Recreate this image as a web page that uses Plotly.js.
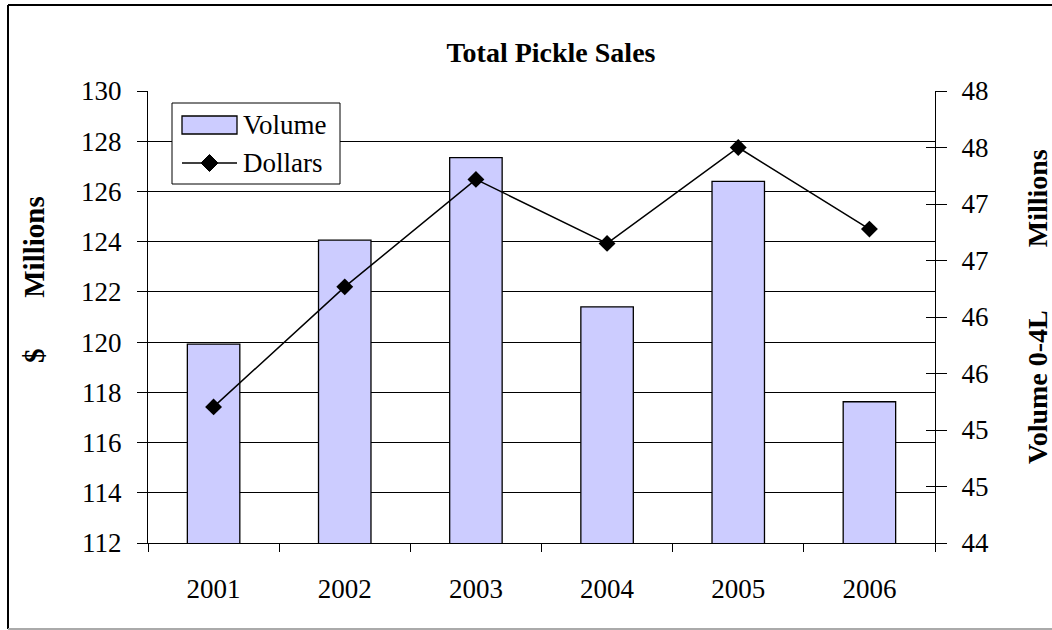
<!DOCTYPE html>
<html>
<head>
<meta charset="utf-8">
<script src="https://cdn.plot.ly/plotly-3.0.1.min.js"></script>
<style>html,body{margin:0;padding:0;background:#fff;}#chart{width:1052px;height:630px;}</style>
</head>
<body>
<div id="chart"></div>
<script>
// ---- data ----
const years = ['2001', '2002', '2003', '2004', '2005', '2006'];
const volume = [45.76, 46.68, 47.41, 46.09, 47.20, 45.25];      // right axis, Volume 0-4L Millions
const dollars = [117.42, 122.2, 126.48, 123.93, 127.75, 124.5]; // left axis, $ Millions
const rightTickVals = [44, 44.5, 45, 45.5, 46, 46.5, 47, 47.5, 48];
const rightTickText = ['44', '45', '45', '46', '46', '47', '47', '48', '48'];
const seriesNames = ['Volume', 'Dollars'];
const titleText = 'Total Pickle Sales';
const leftTitle = '$\u00a0\u00a0\u00a0\u00a0\u00a0\u00a0\u00a0Millions';
const rightTitle = 'Volume 0-4L\u00a0\u00a0\u00a0\u00a0\u00a0\u00a0\u00a0\u00a0\u00a0Millions';

// ---- layout geometry (pixels) ----
const W = 1052, H = 630;
const L = 148, R = 935, T = 91, B = 543;
const px = x => (x - L) / (R - L);
const py = y => (B - y) / (B - T);

const FONT = 'Liberation Serif';
const BAR_FILL = '#CCCCFF';

const traces = [
  {
    type: 'bar', name: seriesNames[0], x: years, y: volume, yaxis: 'y',
    marker: {color: BAR_FILL, line: {color: '#000', width: 1.3}},
    hoverinfo: 'skip', showlegend: false
  },
  {
    type: 'scatter', mode: 'lines+markers', name: seriesNames[1], x: years, y: dollars, yaxis: 'y2',
    line: {color: '#000', width: 1.5},
    marker: {symbol: 'diamond', size: 13, color: '#000'},
    hoverinfo: 'skip', showlegend: false
  },
  // invisible trace carrying the inside half of the right-hand cross ticks
  {type: 'scatter', x: years, y: volume, yaxis: 'y3', mode: 'none', showlegend: false, hoverinfo: 'skip'}
];

// custom legend (Excel style: wide swatch)
const lg = {x0: 172, x1: 340, y0: 103, y1: 184, sx0: 182, sx1: 237, r1: 125, r2: 163, tx: 241};
const dia = 8.5;
const diamondPath = 'M ' + px((lg.sx0 + lg.sx1) / 2) + ',' + py(lg.r2 - dia) +
  ' L ' + px((lg.sx0 + lg.sx1) / 2 + dia) + ',' + py(lg.r2) +
  ' L ' + px((lg.sx0 + lg.sx1) / 2) + ',' + py(lg.r2 + dia) +
  ' L ' + px((lg.sx0 + lg.sx1) / 2 - dia) + ',' + py(lg.r2) + ' Z';

const layout = {
  width: W, height: H,
  paper_bgcolor: '#fff', plot_bgcolor: 'rgba(0,0,0,0)',
  margin: {l: L, r: W - R, t: T, b: H - B, pad: 0},
  font: {family: FONT, size: 27, color: '#000'},
  title: {
    text: '<b>' + titleText + '</b>',
    font: {family: FONT, size: 28, color: '#000'},
    x: 551 / W, xref: 'container', xanchor: 'center',
    y: 1 - 52 / H, yref: 'container', yanchor: 'middle'
  },
  bargap: 0.6,
  showlegend: false,
  xaxis: {
    type: 'category', range: [-0.5, 5.5],
    tickson: 'boundaries', ticks: 'outside', ticklen: 8, tickcolor: '#000', tickwidth: 1,
    showline: true, linecolor: '#000', linewidth: 1,
    showgrid: false, zeroline: false,
    tickfont: {family: FONT, size: 27, color: '#000'},
    ticklabelstandoff: 22, fixedrange: true
  },
  yaxis: {
    side: 'right', range: [44, 48],
    tickmode: 'array', tickvals: rightTickVals, ticktext: rightTickText,
    ticks: 'outside', ticklen: 11, tickcolor: '#000', tickwidth: 1,
    showline: true, linecolor: '#000', linewidth: 1,
    showgrid: false, zeroline: false,
    tickfont: {family: FONT, size: 27, color: '#000'},
    ticklabelstandoff: 9, fixedrange: true
  },
  yaxis2: {
    side: 'left', overlaying: 'y', range: [112, 130], dtick: 2, tick0: 112,
    ticks: 'outside', ticklen: 10, tickcolor: '#000', tickwidth: 1,
    showline: true, linecolor: '#000', linewidth: 1,
    showgrid: true, gridcolor: '#000', gridwidth: 1, zeroline: false,
    tickfont: {family: FONT, size: 27, color: '#000'},
    ticklabelstandoff: 10, fixedrange: true
  },
  yaxis3: {
    side: 'right', overlaying: 'y', range: [44, 48],
    tickmode: 'array', tickvals: rightTickVals,
    ticks: 'inside', ticklen: 9, tickcolor: '#000', tickwidth: 1,
    showticklabels: false, showline: false, showgrid: false, zeroline: false, fixedrange: true
  },
  annotations: [
    {
      text: '<b>' + leftTitle + '</b>', textangle: -90, showarrow: false,
      xref: 'paper', yref: 'paper', x: px(34), y: py(280), xanchor: 'center', yanchor: 'middle',
      font: {family: FONT, size: 29, color: '#000'}
    },
    {
      text: '<b>' + rightTitle + '</b>', textangle: -90, showarrow: false,
      xref: 'paper', yref: 'paper', x: px(1037), y: py(307), xanchor: 'center', yanchor: 'middle',
      font: {family: FONT, size: 28, color: '#000'}
    },
    {
      text: seriesNames[0], showarrow: false, xref: 'paper', yref: 'paper',
      x: px(lg.tx), y: py(lg.r1), xanchor: 'left', yanchor: 'middle',
      font: {family: FONT, size: 27, color: '#000'}
    },
    {
      text: seriesNames[1], showarrow: false, xref: 'paper', yref: 'paper',
      x: px(lg.tx), y: py(lg.r2), xanchor: 'left', yanchor: 'middle',
      font: {family: FONT, size: 27, color: '#000'}
    }
  ],
  shapes: [
    // chart-area frame
    {type: 'line', xref: 'paper', yref: 'paper', x0: px(8), x1: px(8), y0: py(5), y1: py(629), line: {color: '#000', width: 2}},
    {type: 'line', xref: 'paper', yref: 'paper', x0: px(8), x1: px(1052), y0: py(5), y1: py(5), line: {color: '#000', width: 2}},
    {type: 'line', xref: 'paper', yref: 'paper', x0: px(8), x1: px(1052), y0: py(629), y1: py(629), line: {color: '#aaa', width: 2}},
    // legend box
    {type: 'rect', xref: 'paper', yref: 'paper', x0: px(lg.x0), x1: px(lg.x1), y0: py(lg.y0), y1: py(lg.y1),
      fillcolor: '#fff', line: {color: '#000', width: 1}, layer: 'above'},
    // legend swatch: bar
    {type: 'rect', xref: 'paper', yref: 'paper', x0: px(lg.sx0), x1: px(lg.sx1), y0: py(lg.r1 - 9), y1: py(lg.r1 + 9),
      fillcolor: BAR_FILL, line: {color: '#000', width: 1.3}, layer: 'above'},
    // legend swatch: line + diamond
    {type: 'line', xref: 'paper', yref: 'paper', x0: px(lg.sx0), x1: px(lg.sx1), y0: py(lg.r2), y1: py(lg.r2),
      line: {color: '#000', width: 1.5}, layer: 'above'},
    {type: 'path', xref: 'paper', yref: 'paper', path: diamondPath, fillcolor: '#000', line: {color: '#000', width: 1}, layer: 'above'}
  ]
};

Plotly.newPlot('chart', traces, layout, {displayModeBar: false, staticPlot: true});
</script>
</body>
</html>
